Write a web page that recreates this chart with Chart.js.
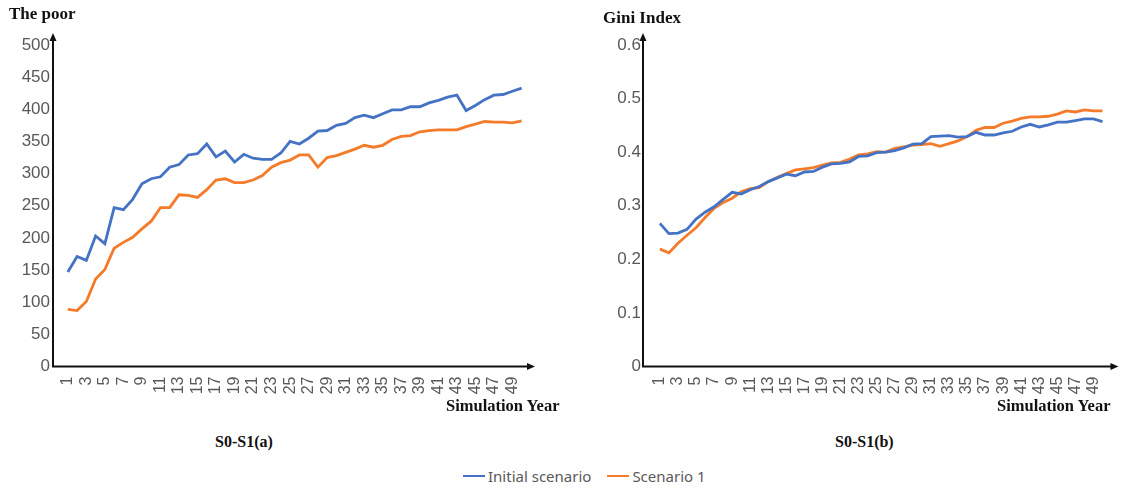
<!DOCTYPE html>
<html>
<head>
<meta charset="utf-8">
<script src="https://cdn.jsdelivr.net/npm/chart.js@4"></script>
<style>
    body { margin: 0; background: #fff; }
    #wrap { position: relative; width: 1123px; height: 489px; overflow: hidden; }
    canvas { position: absolute; top: 0; }
    .t { position: absolute; font-family: "Liberation Serif", serif; font-weight: bold; color: #111; white-space: nowrap; }
    #legend { position: absolute; left: 463px; top: 466px; display: flex; align-items: center;
              font-family: "Noto Sans", sans-serif; font-size: 15px; color: #595959; }
    .sw { width: 22px; height: 2.5px; margin-right: 3px; }
</style>
</head>
<body>
<div id="wrap">
    <canvas id="poorChart" style="left:0px" width="560" height="420"></canvas>
    <canvas id="giniChart" style="left:575px" width="548" height="420"></canvas>

    <div class="t" style="left:9px; top:4px; font-size:17px;">The poor</div>
    <div class="t" style="left:603px; top:8px; font-size:17px;">Gini Index</div>
    <div class="t" style="left:446px; top:396px; font-size:16.5px;">Simulation Year</div>
    <div class="t" style="left:997px; top:396px; font-size:16.5px;">Simulation Year</div>
    <div class="t" style="left:215px; top:433px; font-size:16px;">S0-S1(a)</div>
    <div class="t" style="left:835px; top:433px; font-size:16px;">S0-S1(b)</div>

    <div id="legend">
        <div class="sw" style="background:#4472C4"></div><span>Initial scenario</span>
        <div class="sw" style="background:#F47B2A; margin-left:16px"></div><span>Scenario 1</span>
    </div>
</div>

<script>
const years = Array.from({ length: 50 }, (_, i) => i + 1);
const tickYears = years.filter(y => y % 2 === 1);

// (a) number of poor
const poorInitial = [147, 171, 165, 203, 191, 247, 244, 260, 284, 292,
    295, 310, 314, 329, 331, 346, 326, 335, 318, 330,
    324, 322, 322, 332, 350, 346, 355, 366, 367, 375,
    378, 387, 391, 387, 393, 399, 399, 404, 404, 410,
    414, 419, 422, 398, 406, 415, 422, 423, 428, 433];
const poorScenario1 = [89, 87, 101, 136, 151, 184, 193, 201, 214, 226,
    247, 247, 267, 266, 263, 275, 290, 292, 286, 286,
    290, 297, 310, 317, 321, 329, 329, 310, 325, 328,
    333, 338, 344, 341, 344, 353, 358, 359, 365, 367,
    368, 368, 368, 373, 377, 381, 380, 380, 379, 382];

// (b) Gini index
const giniInitial = [0.267, 0.248, 0.249, 0.256, 0.275, 0.288, 0.298, 0.312, 0.325, 0.322,
    0.330, 0.336, 0.345, 0.352, 0.359, 0.356, 0.363, 0.364, 0.372, 0.378,
    0.379, 0.382, 0.392, 0.393, 0.399, 0.400, 0.403, 0.408, 0.415, 0.416,
    0.429, 0.430, 0.431, 0.428, 0.429, 0.437, 0.432, 0.432, 0.436, 0.439,
    0.447, 0.452, 0.447, 0.451, 0.456, 0.456, 0.459, 0.462, 0.462, 0.457];
const giniScenario1 = [0.219, 0.212, 0.230, 0.245, 0.259, 0.278, 0.295, 0.306, 0.314, 0.326,
    0.332, 0.334, 0.345, 0.353, 0.360, 0.367, 0.369, 0.371, 0.376, 0.380,
    0.381, 0.387, 0.395, 0.397, 0.401, 0.400, 0.407, 0.410, 0.413, 0.414,
    0.416, 0.411, 0.416, 0.421, 0.429, 0.441, 0.446, 0.446, 0.454, 0.458,
    0.463, 0.466, 0.466, 0.467, 0.471, 0.477, 0.475, 0.479, 0.477, 0.477];

const BLUE = "#4472C4";
const ORANGE = "#F47B2A";

// draws the black axes with arrow heads
const arrowAxes = {
    id: "arrowAxes",
    afterDraw(chart, args, opts) {
        const { ctx, chartArea } = chart;
        const l = chartArea.left, b = chartArea.bottom;
        const topY = chartArea.top - 12;
        const rightX = chartArea.right + opts.extra;
        ctx.save();
        ctx.strokeStyle = "#111";
        ctx.fillStyle = "#111";
        ctx.lineWidth = 2;
        ctx.beginPath();
        ctx.moveTo(l, topY + 6);
        ctx.lineTo(l, b);
        ctx.lineTo(rightX - 6, b);
        ctx.stroke();
        ctx.beginPath();
        ctx.moveTo(l, topY);
        ctx.lineTo(l - 3.5, topY + 8);
        ctx.lineTo(l + 3.5, topY + 8);
        ctx.closePath();
        ctx.fill();
        ctx.beginPath();
        ctx.moveTo(rightX, b);
        ctx.lineTo(rightX - 8, b - 3.5);
        ctx.lineTo(rightX - 8, b + 3.5);
        ctx.closePath();
        ctx.fill();
        ctx.restore();
    }
};

function toPoints(values) {
    return values.map((v, i) => ({ x: years[i], y: v }));
}

function makeChart(id, initial, scenario, cfg) {
    return new Chart(document.getElementById(id), {
        type: "line",
        data: {
            datasets: [
                { label: "Initial scenario", data: toPoints(initial), borderColor: BLUE, borderWidth: 2.8, pointRadius: 0 },
                { label: "Scenario 1", data: toPoints(scenario), borderColor: ORANGE, borderWidth: 2.8, pointRadius: 0 }
            ]
        },
        options: {
            responsive: false,
            animation: false,
            layout: { padding: { top: 45, right: cfg.padRight, left: 0, bottom: 0 } },
            plugins: {
                legend: { display: false },
                tooltip: { enabled: false },
                arrowAxes: { extra: cfg.extra }
            },
            scales: {
                x: {
                    type: "linear",
                    min: cfg.xMin,
                    max: cfg.xMax,
                    grid: { display: false, drawTicks: false },
                    border: { display: false },
                    afterBuildTicks: s => { s.ticks = tickYears.map(v => ({ value: v })); },
                    afterFit: s => { s.height = 53.5; },
                    ticks: {
                        autoSkip: false,
                        minRotation: 90,
                        maxRotation: 90,
                        padding: 10,
                        color: "#595959",
                        font: { family: "Liberation Sans", size: 16 }
                    }
                },
                y: {
                    min: 0,
                    max: cfg.yMax,
                    grid: { display: false, drawTicks: false },
                    border: { display: false },
                    afterFit: s => { s.width = cfg.yWidth; },
                    ticks: {
                        stepSize: cfg.yStep,
                        padding: cfg.yPad,
                        color: "#595959",
                        font: { family: "Liberation Sans", size: 17 }
                    }
                }
            }
        },
        plugins: [arrowAxes]
    });
}

makeChart("poorChart", poorInitial, poorScenario1,
    { yMax: 500, yStep: 50, yWidth: 53, yPad: 3, xMin: -0.6, xMax: 50.9, padRight: 30, extra: 5 });
makeChart("giniChart", giniInitial, giniScenario1,
    { yMax: 0.6, yStep: 0.1, yWidth: 68, yPad: 2, xMin: -0.87, xMax: 51.1, padRight: 8, extra: 6 });
</script>
</body>
</html>
